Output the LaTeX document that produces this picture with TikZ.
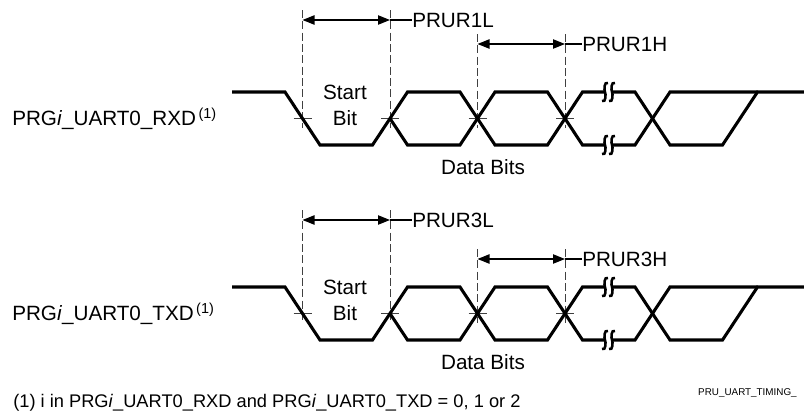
\documentclass[tikz,border=0pt]{standalone}
\usepackage{fontspec}
\setmainfont{Liberation Sans}
\usetikzlibrary{arrows.meta}

\begin{document}
\begin{tikzpicture}[x=0.75pt, y=-0.75pt,
    wave/.style={line width=2.3pt, line join=miter},
    guide/.style={dash pattern=on 6pt off 2.5pt, line width=0.7pt, black!75},
    tick/.style={line width=0.6pt, black!75},
    dim/.style={{Triangle[length=9pt,width=7pt]}-{Triangle[length=9pt,width=7pt]}, line width=0.8pt},
    lbl/.style={font=\fontsize{15.5}{19.5}\selectfont, inner sep=0pt}]
    \useasboundingbox (0,0) rectangle (804,414);

    \foreach \dy/\sig/\n/\hl/\hh in {0/RXD/1/20/44, 195/TXD/3/25/64} {
    \begin{scope}[shift={(0,\dy)}]
        \node[lbl, anchor=west] (sig\n) at (12,118.5) {PRG\textit{i}\_UART0\_\sig\textsuperscript{\,(1)}};

        % guides and crossing ticks
        \foreach \x/\t in {302.5/\hl, 390/\hl, 477.5/\hh, 565/\hh} {
            \draw[guide] (\x,\t-10) -- (\x,128);
            \draw[tick] (\x-9,118.5) -- (\x+9,118.5);
        }

        % bit widths
        \coordinate (a\n) at (302.5,\hl);
        \coordinate (b\n) at (390,\hl);
        \coordinate (c\n) at (477.5,\hh);
        \coordinate (d\n) at (565,\hh);
        \node[lbl, anchor=west] (low\n) at (412,\hl) {PRUR\n L};
        \node[lbl, anchor=west] (high\n) at (582,\hh) {PRUR\n H};
        \draw[dim] (a\n) -- (b\n);
        \draw[line width=0.8pt] (b\n) -- (low\n.west);
        \draw[dim] (c\n) -- (d\n);
        \draw[line width=0.8pt] (d\n) -- (high\n.west);

        % signal
        \draw[wave] (232,92) -- (285,92) -- (320,145) -- (372.5,145) -- (407.5,92) -- (460,92)
            -- (495,145) -- (547.5,145) -- (582.5,92) -- (635,92) -- (670,145) -- (722.5,145)
            -- (757.5,92) -- (804,92);
        \draw[wave] (390,118.5) -- (407.5,145) -- (460,145) -- (495,92) -- (547.5,92)
            -- (582.5,145) -- (635,145) -- (670,92) -- (757.5,92);

        % breaks
        \foreach \y in {92,145} {
            \fill[white] (605,\y-3) rectangle (612,\y+3);
            \foreach \x in {605,612}
                \draw[line width=1.9pt] (\x+3,\y-9) .. controls (\x-1,\y-11) and (\x-1,\y-2) .. (\x,\y)
                    .. controls (\x+1,\y+2) and (\x+1,\y+11) .. (\x-3,\y+9);
        }

        \node[lbl, align=center] (start\n) at (345,105) {Start\\Bit};
        \node[lbl] (data\n) at (483,167) {Data Bits};
    \end{scope}
    }

    \node[font=\fontsize{13.7}{16}\selectfont, anchor=west, inner sep=0pt] (note) at (13,403)
        {(1) i in PRG\textit{i}\_UART0\_RXD and PRG\textit{i}\_UART0\_TXD = 0, 1 or 2};
    \node[font=\fontsize{7.4}{9}\selectfont, anchor=east, inner sep=0pt] (fig) at (797,393) {PRU\_UART\_TIMING\_};
\end{tikzpicture}
\end{document}
